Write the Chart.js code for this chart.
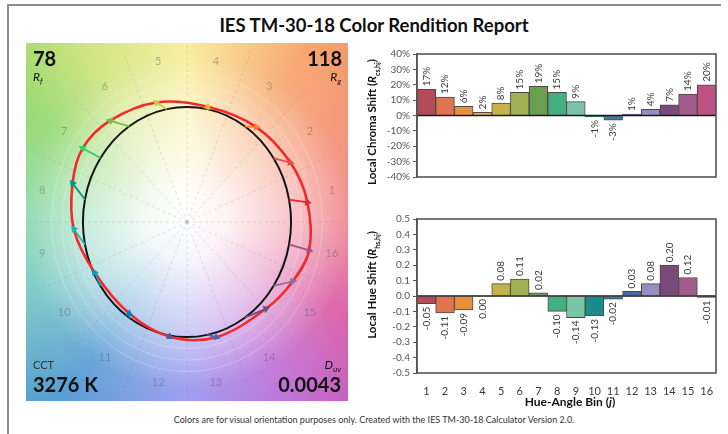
<!DOCTYPE html>
<html>
<head>
<meta charset="utf-8">
<script src="https://cdn.jsdelivr.net/npm/chart.js@4.4.1/dist/chart.umd.min.js"></script>
<style>
  body { margin: 0; width: 728px; height: 434px; background: #fff; position: relative; overflow: hidden; font-family: Lato, "Open Sans", sans-serif; }
  #frame { position: absolute; left: 7px; top: 4px; width: 712px; height: 460px; border-left: 2px solid #8c8c8c; border-top: 2px solid #8c8c8c; }
  #title { position: absolute; left: 10px; width: 728px; top: 14px; text-align: center; font-weight: bold; font-size: 18.5px; color: #111; }
  .box { position: absolute; }
  .ytitle { position: absolute; transform: translate(-50%, -50%) rotate(-90deg); white-space: nowrap; font-weight: bold; font-size: 11.5px; color: #111; }
  .ytitle sub { font-size: 7px; }
  #xtitle { position: absolute; left: 570px; top: 401px; transform: translate(-50%, -50%); font-weight: bold; font-size: 12px; color: #111; white-space: nowrap; }
  #footer { position: absolute; left: 10px; width: 728px; top: 414px; text-align: center; font-size: 9px; color: #333; }
</style>
</head>
<body>
<div id="frame"></div>
<div id="title">IES TM-30-18 Color Rendition Report</div>

<div class="box" style="left:26px; top:43px;"><canvas id="vector" width="322" height="358"></canvas></div>
<div class="box" style="left:380px; top:45px;"><canvas id="chroma" width="343" height="160"></canvas></div>
<div class="box" style="left:380px; top:210px;"><canvas id="hue" width="343" height="185"></canvas></div>

<div class="ytitle" style="left:373px; top:122px;">Local Chroma Shift (<i>R</i><sub>cs,hj</sub>)</div>
<div class="ytitle" style="left:373px; top:285px;">Local Hue Shift (<i>R</i><sub>hs,hj</sub>)</div>
<div id="xtitle">Hue-Angle Bin (<i>j</i>)</div>
<div id="footer">Colors are for visual orientation purposes only. Created with the IES TM-30-18 Calculator Version 2.0.</div>

<script>
// hue-angle bins
const bins = ['1', '2', '3', '4', '5', '6', '7', '8', '9', '10', '11', '12', '13', '14', '15', '16'];
const binCenters = [11.25, 33.75, 56.25, 78.75, 101.25, 123.75, 146.25, 168.75, 191.25, 213.75, 236.25, 258.75, 281.25, 303.75, 326.25, 348.75];

// local chroma shift (%) and local hue shift (rad) per bin
const chromaShift = [17, 12, 6, 2, 8, 15, 19, 15, 9, -1, -3, 1, 4, 7, 14, 20];
const hueShift = [-0.05, -0.11, -0.09, 0.00, 0.08, 0.11, 0.02, -0.10, -0.14, -0.13, -0.02, 0.03, 0.08, 0.20, 0.12, -0.01];

// summary numbers
const fidelity = '78';
const gamut = '118';
const cct = '3276 K';
const duv = '0.0043';

// colours
const arrowColors = ['#e62828', '#e74b4b', '#fb812e', '#ffb529', '#cbca46', '#7eb94c', '#41c06d', '#009c7c',
  '#16bcb0', '#00a4bf', '#0085c3', '#3b62aa', '#4568ae', '#6a4e85', '#9d69a1', '#a74f81'];
const barColors = ['#b54b58', '#e2744f', '#e8903c', '#f1b13b', '#c6b24a', '#a0b052', '#68a050', '#44b080',
  '#7ac4a8', '#1d8a8c', '#3f7aa2', '#4a68a8', '#978cc4', '#7a4a7a', '#a35a8c', '#c05283'];

const FONT = 'Lato, "Open Sans", sans-serif';

// ---------- colour vector graphic ----------
const toXY = (r, deg) => ({ x: r * Math.cos(deg * Math.PI / 180), y: r * Math.sin(deg * Math.PI / 180) });
const refPts = binCenters.map(a => toXY(1, a));
const testPts = binCenters.map((a, i) => toXY(1 + chromaShift[i] / 100, a + hueShift[i] * 180 / Math.PI));

// wrap a ring so the spline closes smoothly, the extra end segments are hidden
const ring = pts => [pts[pts.length - 1], ...pts, pts[0], pts[1]];
const hideEnds = n => ctx => (ctx.p0DataIndex === 0 || ctx.p1DataIndex === n + 2) ? 'transparent' : undefined;

const wheelStops = [
  [0, '#ef7886'], [30, '#f38a6c'], [55, '#f6a066'], [90, '#f8ec92'], [120, '#cce277'],
  [145, '#8ed668'], [180, '#7cd3a6'], [205, '#6cc3c0'], [235, '#4f98d2'], [270, '#9090ee'],
  [300, '#b968d6'], [330, '#d8529e'], [360, '#ef7886']
];

const wheelBackground = {
  id: 'wheelBackground',
  beforeDraw(chart) {
    const { ctx, width, height, scales } = chart;
    const cx = scales.x.getPixelForValue(0);
    const cy = scales.y.getPixelForValue(0);
    const px = p => [scales.x.getPixelForValue(p.x), scales.y.getPixelForValue(p.y)];
    ctx.save();
    const conic = ctx.createConicGradient(0, cx, cy);
    // canvas angles run clockwise, hue angles counter-clockwise
    wheelStops.slice().reverse().forEach(([deg, col]) => conic.addColorStop((360 - deg) / 360, col));
    ctx.fillStyle = conic;
    ctx.fillRect(0, 0, width, height);
    const glow = ctx.createRadialGradient(cx, cy, 0, cx, cy, 245);
    glow.addColorStop(0, 'rgba(255,255,255,1)');
    glow.addColorStop(0.15, 'rgba(255,255,255,0.92)');
    glow.addColorStop(0.45, 'rgba(255,255,255,0.55)');
    glow.addColorStop(0.68, 'rgba(255,255,255,0.14)');
    glow.addColorStop(1, 'rgba(255,255,255,0)');
    ctx.fillStyle = glow;
    ctx.fillRect(0, 0, width, height);

    // faint rings outside the reference circle
    ctx.strokeStyle = 'rgba(255,255,255,0.25)';
    ctx.lineWidth = 1;
    [1.1, 1.2, 1.3].forEach(r => {
      ctx.beginPath();
      ctx.ellipse(cx, cy, scales.x.getPixelForValue(r) - cx, cy - scales.y.getPixelForValue(r), 0, 0, Math.PI * 2);
      ctx.stroke();
    });

    // dashed bin boundaries
    ctx.setLineDash([3, 3]);
    ctx.strokeStyle = 'rgba(110,110,110,0.2)';
    for (let k = 0; k < 16; k++) {
      const [x, y] = px(toXY(1.6, k * 22.5));
      ctx.beginPath();
      ctx.moveTo(cx, cy);
      ctx.lineTo(x, y);
      ctx.stroke();
    }
    ctx.setLineDash([]);

    // bin numbers round the wheel
    ctx.font = '11px ' + FONT;
    ctx.fillStyle = 'rgba(90,90,90,0.42)';
    ctx.textAlign = 'center';
    ctx.textBaseline = 'middle';
    bins.forEach((b, i) => {
      const [x, y] = px(toXY(1.42, binCenters[i]));
      ctx.fillText(b, x, y);
    });
    ctx.restore();
  },
  afterDraw(chart) {
    const { ctx, width } = chart;
    ctx.save();
    ctx.fillStyle = '#111';
    const sym = (x, y, main, sub, align) => {
      ctx.font = 'italic 12px ' + FONT;
      const w1 = ctx.measureText(main).width;
      ctx.font = 'italic 8px ' + FONT;
      const w2 = ctx.measureText(sub).width;
      const x0 = align === 'right' ? x - w1 - w2 : x;
      ctx.font = 'italic 12px ' + FONT;
      ctx.textAlign = 'left';
      ctx.fillText(main, x0, y);
      ctx.font = 'italic 8px ' + FONT;
      ctx.fillText(sub, x0 + w1, y + 3);
    };
    ctx.textBaseline = 'alphabetic';
    ctx.font = 'bold 20px ' + FONT;
    ctx.textAlign = 'left';
    ctx.fillText(fidelity, 7, 23);
    ctx.fillText(cct, 7, 349);
    ctx.textAlign = 'right';
    ctx.fillText(gamut, width - 6, 23);
    ctx.fillText(duv, width - 7, 349);
    sym(7, 38, 'R', 'f', 'left');
    sym(width - 7, 38, 'R', 'g', 'right');
    sym(width - 7, 326, 'D', 'uv', 'right');
    ctx.font = '11px ' + FONT;
    ctx.textAlign = 'left';
    ctx.fillStyle = '#333';
    ctx.fillText('CCT', 7, 326);
    ctx.restore();
  }
};

// arrow heads point from the reference hue to the test hue
function arrowRotation(ctx) {
  if (ctx.dataIndex !== 1) return 0;
  const { x, y } = ctx.chart.scales;
  const [a, b] = ctx.dataset.data;
  const dx = x.getPixelForValue(b.x) - x.getPixelForValue(a.x);
  const dy = y.getPixelForValue(b.y) - y.getPixelForValue(a.y);
  return Math.atan2(dx, -dy) * 180 / Math.PI;
}

const arrowSets = bins.map((b, i) => ({
  data: [refPts[i], testPts[i]],
  borderColor: arrowColors[i],
  backgroundColor: arrowColors[i],
  borderWidth: 1.8,
  pointStyle: 'triangle',
  pointRadius: [0, 4.4],
  pointBorderWidth: 0,
  rotation: arrowRotation,
  showLine: true,
  order: 0
}));

new Chart(document.getElementById('vector'), {
  type: 'scatter',
  data: {
    datasets: [
      ...arrowSets,
      {
        data: ring(testPts),
        borderColor: '#f42a2a',
        borderWidth: 2.6,
        pointRadius: 0,
        showLine: true,
        tension: 0.34,
        segment: { borderColor: hideEnds(16) },
        order: 1
      },
      {
        data: ring(refPts),
        borderColor: '#141414',
        borderWidth: 2,
        pointRadius: 0,
        showLine: true,
        tension: 0.34,
        segment: { borderColor: hideEnds(16) },
        order: 2
      }
    ]
  },
  options: {
    responsive: false,
    animation: false,
    layout: { padding: 0 },
    plugins: { legend: { display: false }, tooltip: { enabled: false } },
    scales: {
      x: { display: false, min: -1.505, max: 1.505 },
      y: { display: false, min: -1.517, max: 1.517 }
    }
  },
  plugins: [wheelBackground]
});

// ---------- bar charts ----------
const plotBox = {
  id: 'plotBox',
  afterDatasetsDraw(chart, args, opts) {
    const { ctx, chartArea: a, scales } = chart;
    ctx.save();
    // zero line
    const y0 = scales.y.getPixelForValue(0);
    ctx.strokeStyle = '#1a1a1a';
    ctx.lineWidth = 1.6;
    ctx.beginPath();
    ctx.moveTo(a.left, y0);
    ctx.lineTo(a.right, y0);
    ctx.stroke();
    ctx.strokeStyle = '#555';
    ctx.lineWidth = 1.6;
    ctx.strokeRect(a.left, a.top, a.right - a.left, a.bottom - a.top);

    // value labels, rotated, outside the bar end
    const meta = chart.getDatasetMeta(0);
    const values = chart.data.datasets[0].data;
    ctx.font = '10px ' + FONT;
    ctx.fillStyle = '#3a3a3a';
    ctx.textBaseline = 'middle';
    meta.data.forEach((bar, i) => {
      const v = values[i];
      const up = v > 0;
      ctx.save();
      ctx.translate(bar.x, up ? bar.y - 3 : Math.max(bar.y, y0) + 3);
      ctx.rotate(-Math.PI / 2);
      ctx.textAlign = up ? 'left' : 'right';
      ctx.fillText(opts.format(v), 0, 0);
      ctx.restore();
    });
    ctx.restore();
  }
};

function barChart(id, values, yMin, yMax, step, tickFmt, labelFmt, showX, padding) {
  return new Chart(document.getElementById(id), {
    type: 'bar',
    data: {
      labels: bins,
      datasets: [{
        data: values,
        backgroundColor: barColors,
        borderColor: '#4a4a4a',
        borderWidth: 1,
        barPercentage: 1,
        categoryPercentage: 1
      }]
    },
    options: {
      responsive: false,
      animation: false,
      layout: { padding },
      plugins: {
        legend: { display: false },
        tooltip: { enabled: false },
        plotBox: { format: labelFmt }
      },
      scales: {
        x: {
          display: showX,
          grid: { display: false },
          border: { display: false },
          ticks: { color: '#3a3a3a', font: { family: FONT, size: 11 }, padding: 4, maxRotation: 0 },
          afterFit: s => { s.height = 22; }
        },
        y: {
          min: yMin,
          max: yMax,
          ticks: { stepSize: step, callback: tickFmt, color: '#555', font: { family: FONT, size: 10 }, padding: 3 },
          grid: { drawOnChartArea: false, tickColor: '#555', tickLength: 4, tickWidth: 1 },
          border: { color: '#555', width: 1.6 },
          afterFit: s => { s.height = undefined; s.width = 37; }
        }
      }
    },
    plugins: [plotBox]
  });
}

barChart('chroma', chromaShift, -40, 40, 10, v => v + '%', v => Math.round(v) + '%', false,
  { top: 9, right: 7, bottom: 6, left: 0 });
barChart('hue', hueShift, -0.5, 0.5, 0.1, v => v.toFixed(1), v => v.toFixed(2), true,
  { top: 7, right: 7, bottom: 0, left: 0 });
</script>
</body>
</html>
